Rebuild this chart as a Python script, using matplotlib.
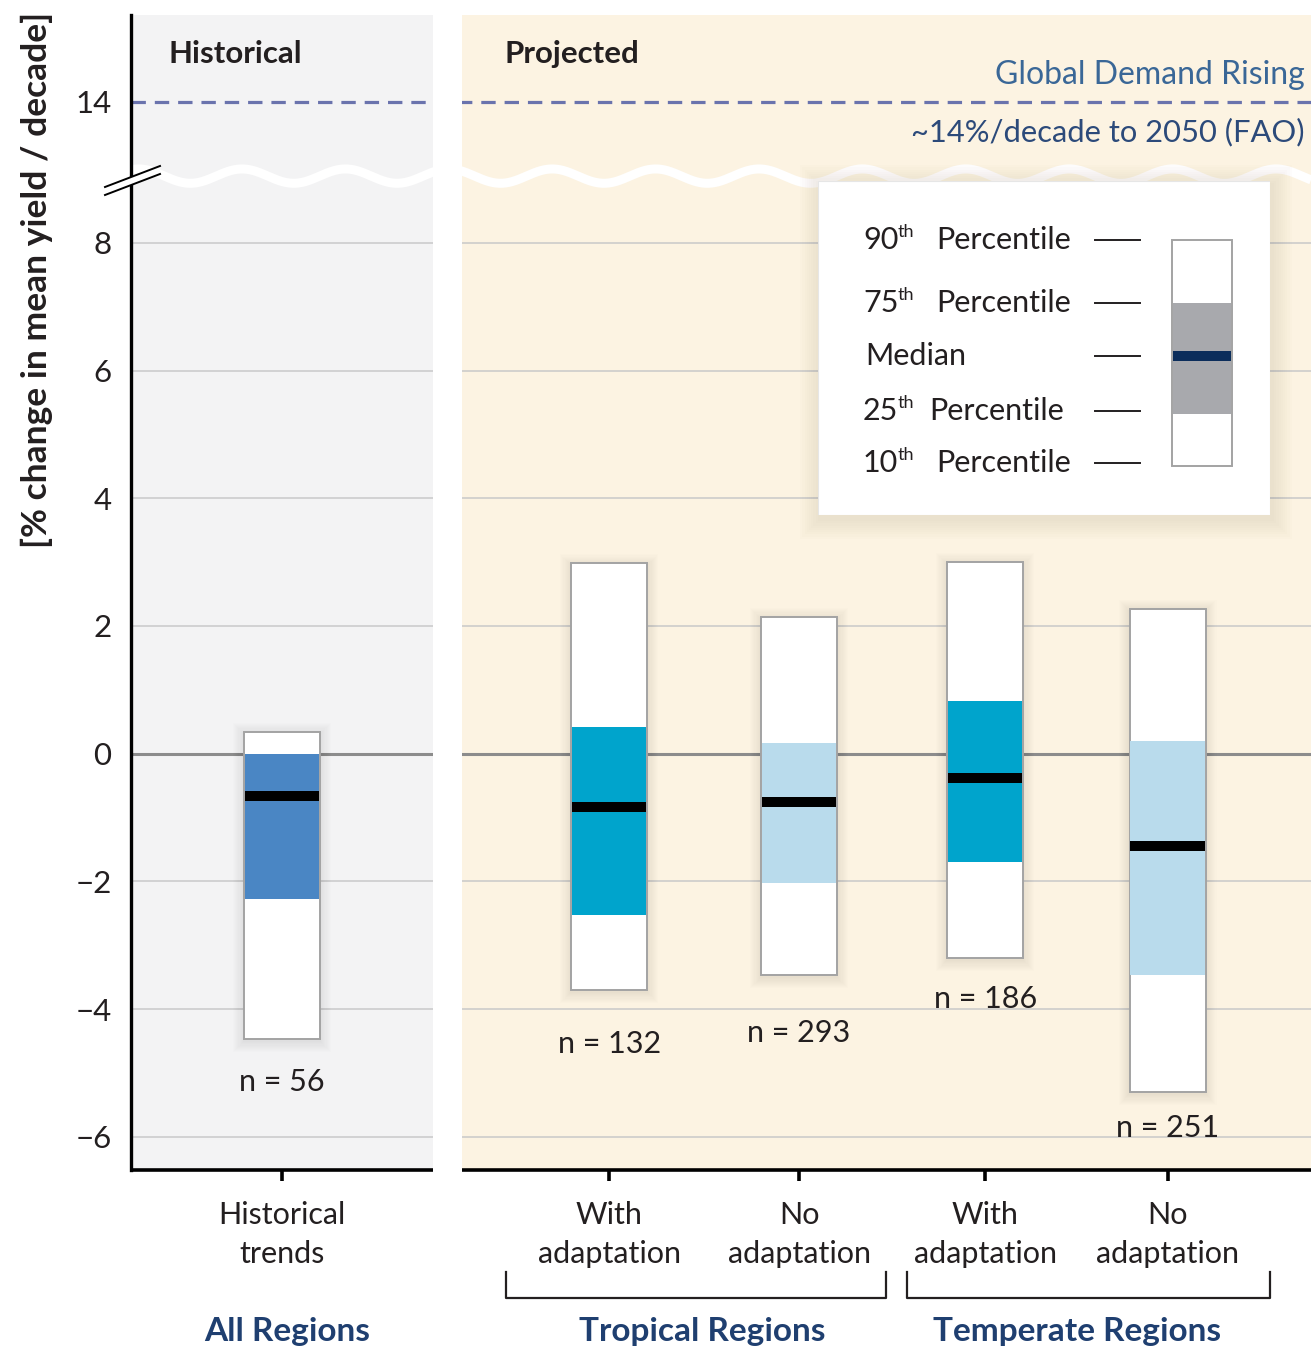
import numpy as np
import matplotlib
matplotlib.use("Agg")
import matplotlib.pyplot as plt
from matplotlib.patches import Rectangle, Polygon

plt.rcParams['font.family'] = ['Lato', 'DejaVu Sans']

# ---- data ---------------------------------------------------------------
categories = ["Historical\ntrends", "With\nadaptation", "No\nadaptation",
              "With\nadaptation", "No\nadaptation"]
p10 = [-4.47, -3.70, -3.47, -3.20, -5.30]
p25 = [-2.27, -2.52, -2.02, -1.70, -3.47]
median = [-0.66, -0.83, -0.75, -0.38, -1.45]
p75 = [0.00, 0.42, 0.17, 0.83, 0.20]
p90 = [0.34, 2.98, 2.14, 3.00, 2.27]
n_obs = [56, 132, 293, 186, 251]
demand_rise = 14
y_ticks = [-6, -4, -2, 0, 2, 4, 6, 8, 14]
grid_vals = [-6, -4, -2, 2, 4, 6, 8]
groups = ["All Regions", "Tropical Regions", "Temperate Regions"]

# ---- layout / style -----------------------------------------------------
x_pos = [0.0, 1.74, 2.75, 3.74, 4.71]
box_w = 0.404
label_gap = [0.67, 0.85, 0.91, 0.64, 0.56]
iqr_colors = ["#4a86c4", "#00a4cc", "#b9dbec", "#00a4cc", "#b9dbec"]
hist_bg = "#f3f3f4"
proj_bg = "#fcf3e2"
XMIN, XMAX = -0.803, 5.473
GAP = (0.803, 0.957)

# broken y axis: values between B and B+S are squeezed to almost nothing
B, S, K = 9.03, 3.83, 0.01


def fwd(y):
    y = np.asarray(y, float)
    return np.where(y <= B, y, np.where(y <= B + S, B + (y - B) * K, y - S + S * K))


def inv(t):
    t = np.asarray(t, float)
    return np.where(t <= B, t, np.where(t <= B + S * K, B + (t - B) / K, t + S - S * K))


W, H = 1311, 1351
fig = plt.figure(figsize=(W / 100, H / 100), dpi=100)
ax = fig.add_axes([131 / W, 1 - 1170 / H, 1 - 131 / W, (1170 - 15) / H])
ax.set_yscale('function', functions=(fwd, inv))
ax.set_ylim(-6.52, 15.36)
ax.set_xlim(XMIN, XMAX)

# panels
ax.axvspan(XMIN, GAP[0], color=hist_bg, zorder=0, lw=0)
ax.axvspan(GAP[1], XMAX, color=proj_bg, zorder=0, lw=0)

for g in grid_vals:
    ax.axhline(g, color="#c9c9c9", lw=1.1, zorder=1)
ax.axhline(0, color="#8c8c8c", lw=2.2, zorder=1)
ax.axhline(demand_rise, color="#6a73ad", lw=2.3, dashes=(4.5, 2.8), zorder=1)

# wavy break line
xt = ax.get_xaxis_transform()
xw = np.linspace(XMIN, XMAX, 1500)
yw = 0.8605 + 0.0062 * np.sin(2 * np.pi * (xw - 0.2) / 0.55)
ax.plot(xw, yw, color="white", lw=6.5, transform=xt, zorder=2, solid_capstyle='butt')

# white gap between panels
ax.axvspan(GAP[0], GAP[1], color="white", zorder=2.5, lw=0)

# boxes
px_x = 1 / 188.0
px_y = 1 / 63.85
for i, x in enumerate(x_pos):
    for k in range(1, 11):
        e = 1.1 * k
        ax.add_patch(Rectangle((x - box_w / 2 - e * px_x, p10[i] - (e + 2) * px_y),
                               box_w + 2 * e * px_x, p90[i] - p10[i] + (2 * e) * px_y,
                               fc="#000000", ec="none", alpha=0.009, zorder=2.8))
    ax.add_patch(Rectangle((x - box_w / 2, p10[i]), box_w, p90[i] - p10[i],
                           fc="white", ec="#a3a3a3", lw=1.4, zorder=3))
    ax.add_patch(Rectangle((x - box_w / 2 + 0.004, p25[i]), box_w - 0.008, p75[i] - p25[i],
                           fc=iqr_colors[i], ec="none", zorder=4))
    ax.plot([x - box_w / 2 + 0.004, x + box_w / 2 - 0.004], [median[i], median[i]],
            color="black", lw=7.2, solid_capstyle='butt', zorder=5)
    ax.text(x, p10[i] - label_gap[i], f"n = {n_obs[i]}", ha="center", va="center",
            fontsize=22, color="#231f20", zorder=6)

# axes styling
for s in ["top", "right", "bottom"]:
    ax.spines[s].set_visible(False)
ax.spines["left"].set_linewidth(2.4)
ax.spines["left"].set_color("black")
ax.spines["left"].set_zorder(7)
for a, b in [(XMIN, GAP[0]), (GAP[1], XMAX)]:
    ax.plot([a, b], [0, 0], color="black", lw=2.6, transform=xt, clip_on=False, zorder=7,
            solid_capstyle='butt')

ax.set_yticks(y_ticks)
ax.set_yticklabels([str(v).replace("-", "\u2212") for v in y_ticks])
ax.yaxis.set_minor_locator(matplotlib.ticker.NullLocator())
ax.tick_params(axis="y", length=0, pad=14, labelsize=22.5, labelcolor="#231f20")
ax.set_xticks(x_pos)
ax.set_xticklabels(categories, linespacing=1.5)
ax.tick_params(axis="x", length=8, width=2.6, direction="out", pad=14, labelsize=22,
               labelcolor="#231f20")

# break marks on the y axis
ta = ax.transAxes
sx, sy = 1 / 1180.0, 1 / 1155.0
p1 = [(-26 * sx, (1170 - 195) * sy), (29 * sx, (1170 - 174) * sy)]
p2 = [(-26 * sx, (1170 - 187) * sy), (29 * sx, (1170 - 166) * sy)]
ax.add_patch(Polygon([p1[0], p1[1], p2[1], p2[0]], closed=True, fc="white", ec="none",
                     transform=ta, clip_on=False, zorder=8))
for p in (p1, p2):
    ax.plot([p[0][0], p[1][0]], [p[0][1], p[1][1]], color="black", lw=1.4,
            transform=ta, clip_on=False, zorder=9)

# panel titles and annotation
ax.text(-0.606, 0.966, "Historical", transform=xt, fontsize=22.5, fontweight="bold",
        va="center", ha="left", color="#231f20")
ax.text(1.186, 0.966, "Projected", transform=xt, fontsize=22.5, fontweight="bold",
        va="center", ha="left", color="#231f20")
ax.text(5.441, 0.948, "Global Demand Rising", transform=xt, fontsize=23,
        va="center", ha="right", color="#3a6797")
ax.text(5.441, 0.899, "~14%/decade to 2050 (FAO)", transform=xt, fontsize=22.2,
        va="center", ha="right", color="#2c4a7a")

# brackets and region labels
by0, by1 = (1170 - 1272) / 1155, (1170 - 1298) / 1155
for a, b in [(1.191, 3.213), (3.324, 5.255)]:
    ax.plot([a, a, b, b], [by0, by1, by1, by0], color="#231f20", lw=1.6,
            transform=xt, clip_on=False)
region_x = [0.027, 2.234, 4.229]
for gx, gname in zip(region_x, groups):
    ax.text(gx, (1170 - 1331) / 1155, gname, transform=xt, clip_on=False,
            fontsize=24, fontweight="bold", color="#1f3f70", ha="center", va="center")

fig.text(37 / W, 1 - 280 / H, "[% change in mean yield / decade]", rotation=90,
         ha="center", va="center", fontsize=25.5, fontweight="bold", color="#231f20")

# key
lax = fig.add_axes([818 / W, 1 - 515 / H, 452 / W, 334 / H])
lax.set_xlim(0, 452)
lax.set_ylim(334, 0)
lax.axis("off")
for k in range(1, 10):
    e = 2.2 * k
    lax.add_patch(Rectangle((-e + 2, -e + 4), 452 + 2 * e, 334 + 2 * e, fc="#5a4a30",
                            ec="none", alpha=0.010, clip_on=False, zorder=0))
lax.add_patch(Rectangle((0, 0), 452, 334, fc="white", ec="#e6e6e6", lw=0.8, zorder=1))
key_y = [59, 122, 175, 230, 282]
key_num = ["90", "75", None, "25", "10"]
key_word_x = [118, 118, None, 111, 118]
for yy, num, wx in zip(key_y, key_num, key_word_x):
    if num is None:
        lax.text(47, yy, "Median", fontsize=22, va="center", ha="left", color="#231f20", zorder=2)
    else:
        lax.text(45, yy, num, fontsize=22, va="center", ha="left", color="#231f20", zorder=2)
        lax.text(80, yy - 8, "th", fontsize=13, va="center", ha="left", color="#231f20", zorder=2)
        lax.text(wx, yy, "Percentile", fontsize=22, va="center", ha="left", color="#231f20",
                 zorder=2)
    lax.plot([277, 322], [yy, yy], color="#231f20", lw=1.4, zorder=2)
lax.add_patch(Rectangle((354, 59), 60, 226, fc="white", ec="#a3a3a3", lw=1.4, zorder=2))
lax.add_patch(Rectangle((355, 122), 58, 111, fc="#a8a9ad", ec="none", zorder=3))
lax.plot([355, 413], [175, 175], color="#0b2d5b", lw=7.2, solid_capstyle='butt', zorder=4)

fig.savefig("out.png", dpi=100, facecolor="white")
